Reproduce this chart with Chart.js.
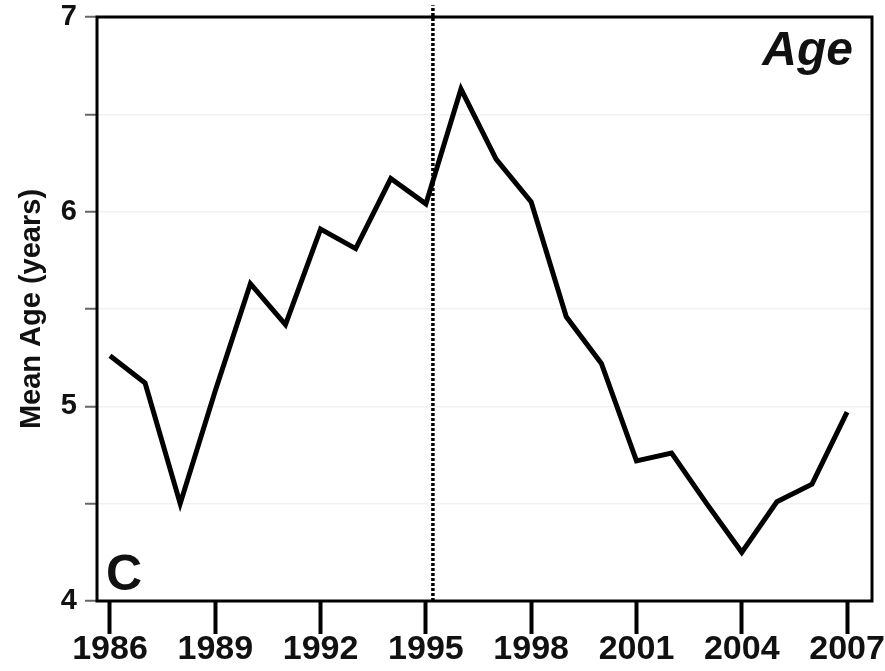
<!DOCTYPE html>
<html>
<head>
<meta charset="utf-8">
<script src="https://cdn.jsdelivr.net/npm/chart.js@4.4.1/dist/chart.umd.min.js"></script>
<style>
  body { margin: 0; background: #fff; }
  #wrap { width: 885px; height: 671px; }
</style>
</head>
<body>
<div id="wrap"><canvas id="graphique" width="885" height="671"></canvas></div>
<script>
// Données (âge moyen par année)
const annees = [1986, 1987, 1988, 1989, 1990, 1991, 1992, 1993, 1994, 1995, 1996,
                1997, 1998, 1999, 2000, 2001, 2002, 2003, 2004, 2005, 2006, 2007];
const ageMoyen = [5.26, 5.12, 4.50, 5.08, 5.63, 5.42, 5.91, 5.81, 6.17, 6.04, 6.63,
                  6.27, 6.05, 5.46, 5.22, 4.72, 4.76, 4.50, 4.25, 4.51, 4.60, 4.97];
const anneesTicks = [1986, 1989, 1992, 1995, 1998, 2001, 2004, 2007];
const ageTicks = [4, 4.5, 5, 5.5, 6, 6.5, 7];
const anneeCoupure = 1995.2;
const coupureY = [4, 7.06];

const police = '"Liberation Sans", Arial, sans-serif';

// Cadre noir autour de la zone de tracé + textes "Age" et "C"
const cadre = {
    id: 'cadre',
    afterDatasetsDraw(chart) {
        const { ctx, chartArea: a } = chart;
        ctx.save();
        ctx.strokeStyle = '#000';
        ctx.lineWidth = 3;
        ctx.strokeRect(a.left, a.top, a.right - a.left, a.bottom - a.top);
        ctx.fillStyle = '#111';
        ctx.font = 'italic bold 48px ' + police;
        ctx.textAlign = 'right';
        ctx.textBaseline = 'alphabetic';
        ctx.fillText('Age', a.right - 19, a.top + 48);
        ctx.font = 'bold 50px ' + police;
        ctx.textAlign = 'left';
        ctx.fillText('C', a.left + 9, a.bottom - 11);
        ctx.restore();
    }
};

new Chart(document.getElementById('graphique'), {
    type: 'line',
    data: {
        datasets: [{
            data: annees.map((a, i) => ({ x: a, y: ageMoyen[i] })),
            borderColor: '#000',
            borderWidth: 5,
            pointRadius: 0,
            tension: 0,
        }, {
            data: coupureY.map(y => ({ x: anneeCoupure, y: y })),
            borderColor: '#000',
            borderWidth: 3.5,
            borderDash: [3, 2],
            pointRadius: 0,
            clip: false,
        }],
    },
    plugins: [cadre],
    options: {
        responsive: false,
        animation: false,
        layout: { padding: { top: 17, right: 13, left: 0, bottom: 0 } },
        plugins: {
            legend: { display: false },
            tooltip: { enabled: false },
        },
        scales: {
            x: {
                type: 'linear',
                min: 1985.63,
                max: 2007.71,
                afterBuildTicks: (scale) => { scale.ticks = anneesTicks.map(v => ({ value: v })); },
                afterFit: (scale) => {
                    scale.height = 70;
                    scale.paddingLeft = 0;
                    scale.paddingRight = 0;
                },
                grid: {
                    drawOnChartArea: false,
                    drawTicks: true,
                    tickLength: 33,
                    tickWidth: 4,
                    tickColor: '#000',
                },
                border: { display: false },
                ticks: {
                    padding: -5,
                    color: '#111',
                    font: { family: police, size: 34, weight: 'bold' },
                    maxRotation: 0,
                    autoSkip: false,
                    callback: (v) => String(v),
                },
            },
            y: {
                min: 4,
                max: 7,
                afterBuildTicks: (scale) => { scale.ticks = ageTicks.map(v => ({ value: v })); },
                afterFit: (scale) => {
                    scale.width = 97;
                    scale.paddingTop = 0;
                    scale.paddingBottom = 0;
                },
                grid: {
                    color: '#f1f1f1',
                    lineWidth: 1.5,
                    drawTicks: true,
                    tickLength: 12,
                    tickWidth: 2,
                    tickColor: '#666',
                },
                border: { display: false },
                ticks: {
                    padding: 8,
                    color: '#111',
                    font: { family: police, size: 29, weight: 'bold' },
                    autoSkip: false,
                    callback: (v) => Number.isInteger(v) ? String(v) : '',
                },
                title: {
                    display: true,
                    text: 'Mean Age (years)',
                    color: '#111',
                    font: { family: police, size: 29, weight: 'bold' },
                    padding: { top: 15, bottom: 0 },
                },
            },
        },
    },
});
</script>
</body>
</html>
